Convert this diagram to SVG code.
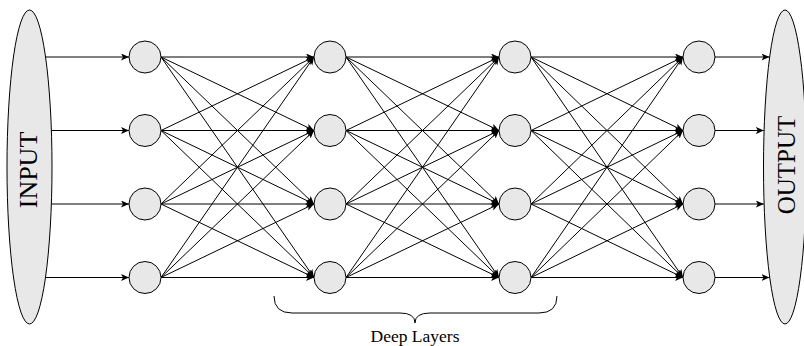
<svg xmlns="http://www.w3.org/2000/svg" width="804" height="346" viewBox="0 0 804 346">
<style>
.n{fill:#e8e8e8;stroke:#000;stroke-width:1}
.c line{stroke:#000;stroke-width:1;marker-end:url(#a)}
.t{font-family:"Liberation Serif","Times New Roman",serif;fill:#000}
</style>
<defs>
<marker id="a" markerUnits="userSpaceOnUse" markerWidth="9" markerHeight="8" refX="8" refY="3.5" orient="auto">
<path d="M0,0 L8,3.5 L0,7 L2,3.5 z" fill="#000"/>
</marker>
</defs>
<rect width="804" height="346" fill="#fff"/>
<g id="input"><ellipse class="n" cx="29.5" cy="167" rx="22.5" ry="157"/><text class="t" font-size="26" text-anchor="middle" transform="translate(37,170) rotate(-90)">INPUT</text></g>
<g id="output"><ellipse class="n" cx="785" cy="167" rx="21.5" ry="157"/><text class="t" font-size="25" text-anchor="middle" transform="translate(795,165) rotate(-90)">OUTPUT</text></g>
<g class="c" id="connectors">
<line x1="45.5" y1="57" x2="129" y2="57"/>
<line x1="51.4" y1="130.5" x2="129" y2="130.5"/>
<line x1="51.4" y1="204" x2="129" y2="204"/>
<line x1="45.8" y1="277.5" x2="129" y2="277.5"/>
<line x1="161" y1="57" x2="314" y2="57"/><line x1="161" y1="57" x2="314" y2="130.5"/><line x1="161" y1="57" x2="314" y2="204"/><line x1="161" y1="57" x2="314" y2="277.5"/>
<line x1="161" y1="130.5" x2="314" y2="57"/><line x1="161" y1="130.5" x2="314" y2="130.5"/><line x1="161" y1="130.5" x2="314" y2="204"/><line x1="161" y1="130.5" x2="314" y2="277.5"/>
<line x1="161" y1="204" x2="314" y2="57"/><line x1="161" y1="204" x2="314" y2="130.5"/><line x1="161" y1="204" x2="314" y2="204"/><line x1="161" y1="204" x2="314" y2="277.5"/>
<line x1="161" y1="277.5" x2="314" y2="57"/><line x1="161" y1="277.5" x2="314" y2="130.5"/><line x1="161" y1="277.5" x2="314" y2="204"/><line x1="161" y1="277.5" x2="314" y2="277.5"/>
<line x1="346" y1="57" x2="499" y2="57"/><line x1="346" y1="57" x2="499" y2="130.5"/><line x1="346" y1="57" x2="499" y2="204"/><line x1="346" y1="57" x2="499" y2="277.5"/>
<line x1="346" y1="130.5" x2="499" y2="57"/><line x1="346" y1="130.5" x2="499" y2="130.5"/><line x1="346" y1="130.5" x2="499" y2="204"/><line x1="346" y1="130.5" x2="499" y2="277.5"/>
<line x1="346" y1="204" x2="499" y2="57"/><line x1="346" y1="204" x2="499" y2="130.5"/><line x1="346" y1="204" x2="499" y2="204"/><line x1="346" y1="204" x2="499" y2="277.5"/>
<line x1="346" y1="277.5" x2="499" y2="57"/><line x1="346" y1="277.5" x2="499" y2="130.5"/><line x1="346" y1="277.5" x2="499" y2="204"/><line x1="346" y1="277.5" x2="499" y2="277.5"/>
<line x1="531" y1="57" x2="683" y2="57"/><line x1="531" y1="57" x2="683" y2="130.5"/><line x1="531" y1="57" x2="683" y2="204"/><line x1="531" y1="57" x2="683" y2="277.5"/>
<line x1="531" y1="130.5" x2="683" y2="57"/><line x1="531" y1="130.5" x2="683" y2="130.5"/><line x1="531" y1="130.5" x2="683" y2="204"/><line x1="531" y1="130.5" x2="683" y2="277.5"/>
<line x1="531" y1="204" x2="683" y2="57"/><line x1="531" y1="204" x2="683" y2="130.5"/><line x1="531" y1="204" x2="683" y2="204"/><line x1="531" y1="204" x2="683" y2="277.5"/>
<line x1="531" y1="277.5" x2="683" y2="57"/><line x1="531" y1="277.5" x2="683" y2="130.5"/><line x1="531" y1="277.5" x2="683" y2="204"/><line x1="531" y1="277.5" x2="683" y2="277.5"/>
<line x1="715" y1="57" x2="769.5" y2="57"/>
<line x1="715" y1="130.5" x2="763.8" y2="130.5"/>
<line x1="715" y1="204" x2="763.8" y2="204"/>
<line x1="715" y1="277.5" x2="769.5" y2="277.5"/>
</g>
<g id="l1n1"><circle class="n" cx="145" cy="57" r="16"/></g>
<g id="l1n2"><circle class="n" cx="145" cy="130.5" r="16"/></g>
<g id="l1n3"><circle class="n" cx="145" cy="204" r="16"/></g>
<g id="l1n4"><circle class="n" cx="145" cy="277.5" r="16"/></g>
<g id="l2n1"><circle class="n" cx="330" cy="57" r="16"/></g>
<g id="l2n2"><circle class="n" cx="330" cy="130.5" r="16"/></g>
<g id="l2n3"><circle class="n" cx="330" cy="204" r="16"/></g>
<g id="l2n4"><circle class="n" cx="330" cy="277.5" r="16"/></g>
<g id="l3n1"><circle class="n" cx="515" cy="57" r="16"/></g>
<g id="l3n2"><circle class="n" cx="515" cy="130.5" r="16"/></g>
<g id="l3n3"><circle class="n" cx="515" cy="204" r="16"/></g>
<g id="l3n4"><circle class="n" cx="515" cy="277.5" r="16"/></g>
<g id="l4n1"><circle class="n" cx="699" cy="57" r="16"/></g>
<g id="l4n2"><circle class="n" cx="699" cy="130.5" r="16"/></g>
<g id="l4n3"><circle class="n" cx="699" cy="204" r="16"/></g>
<g id="l4n4"><circle class="n" cx="699" cy="277.5" r="16"/></g>
<g id="brace"><path d="M274,296 Q274,313 292,313 L400,313 Q415,313 415,323 Q415,313 430,313 L539,313 Q557,313 557,296" fill="none" stroke="#000" stroke-width="1"/><text class="t" font-size="17.5" text-anchor="middle" x="415" y="342">Deep Layers</text></g>
</svg>
